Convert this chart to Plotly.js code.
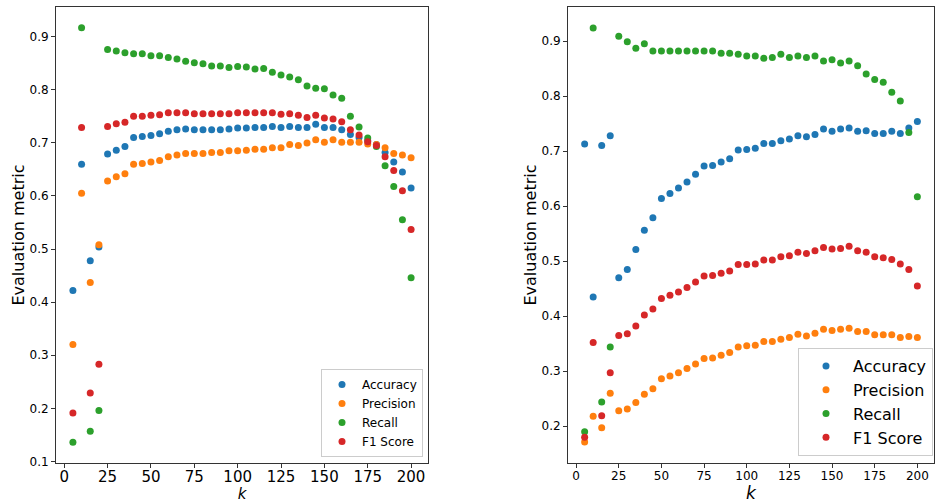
<!DOCTYPE html>
<html>
<head>
<meta charset="utf-8">
<script src="https://cdn.plot.ly/plotly-3.0.1.min.js"></script>
<style>html,body{margin:0;padding:0;background:#fff;}#chart{width:936px;height:503px;}</style>
</head>
<body>
<div id="chart"></div>
<script>
const kVals = [5,10,15,20,25,30,35,40,45,50,55,60,65,70,75,80,85,90,95,100,105,110,115,120,125,130,135,140,145,150,155,160,165,170,175,180,185,190,195,200];

const seriesNames = ["Accuracy","Precision","Recall","F1 Score"];
const seriesColors = ["#1f77b4","#ff7f0e","#2ca02c","#d62728"];

// Left panel
const accLeft = [0.422,0.660,0.478,0.504,0.679,0.686,0.693,0.710,0.712,0.714,0.717,0.722,0.725,0.726,0.725,0.725,0.725,0.725,0.726,0.728,0.728,0.729,0.729,0.731,0.729,0.731,0.729,0.729,0.735,0.729,0.729,0.725,0.716,0.710,0.704,0.697,0.682,0.664,0.645,0.615];
const precLeft = [0.320,0.605,0.437,0.508,0.628,0.636,0.642,0.660,0.661,0.664,0.667,0.674,0.677,0.680,0.680,0.680,0.682,0.682,0.685,0.685,0.686,0.688,0.688,0.691,0.691,0.697,0.695,0.700,0.706,0.701,0.706,0.701,0.701,0.701,0.698,0.697,0.691,0.680,0.677,0.672];
const recLeft = [0.136,0.917,0.157,0.196,0.876,0.873,0.870,0.868,0.868,0.864,0.864,0.861,0.858,0.854,0.851,0.849,0.845,0.845,0.842,0.844,0.843,0.839,0.840,0.833,0.828,0.824,0.819,0.807,0.803,0.802,0.790,0.784,0.750,0.730,0.709,0.693,0.657,0.618,0.555,0.446];
const f1Left = [0.191,0.729,0.229,0.283,0.731,0.736,0.739,0.750,0.750,0.752,0.753,0.757,0.757,0.757,0.755,0.755,0.755,0.755,0.755,0.757,0.757,0.757,0.757,0.757,0.754,0.755,0.752,0.748,0.752,0.747,0.745,0.740,0.725,0.715,0.702,0.695,0.674,0.648,0.610,0.537];

// Right panel
const accRight = [0.713,0.435,0.710,0.728,0.470,0.485,0.521,0.556,0.579,0.614,0.623,0.633,0.644,0.658,0.673,0.674,0.680,0.686,0.702,0.703,0.705,0.714,0.714,0.719,0.722,0.728,0.726,0.730,0.740,0.736,0.740,0.742,0.736,0.737,0.732,0.732,0.736,0.732,0.742,0.754];
const precRight = [0.171,0.218,0.197,0.260,0.228,0.231,0.243,0.258,0.268,0.286,0.291,0.297,0.305,0.313,0.323,0.324,0.329,0.334,0.344,0.346,0.347,0.354,0.354,0.358,0.361,0.367,0.364,0.369,0.376,0.374,0.376,0.378,0.372,0.372,0.366,0.366,0.366,0.361,0.363,0.361];
const recRight = [0.190,0.924,0.244,0.344,0.909,0.899,0.887,0.895,0.882,0.882,0.882,0.882,0.882,0.882,0.882,0.882,0.878,0.878,0.876,0.873,0.873,0.869,0.870,0.876,0.870,0.873,0.870,0.873,0.864,0.866,0.860,0.864,0.855,0.840,0.830,0.825,0.807,0.791,0.734,0.617];
const f1Right = [0.180,0.352,0.219,0.297,0.365,0.368,0.382,0.402,0.413,0.432,0.438,0.444,0.452,0.462,0.473,0.474,0.478,0.482,0.494,0.494,0.495,0.502,0.502,0.508,0.510,0.516,0.514,0.519,0.525,0.522,0.523,0.527,0.519,0.516,0.508,0.506,0.503,0.495,0.485,0.455];

const leftSeries = [accLeft, precLeft, recLeft, f1Left];
const rightSeries = [accRight, precRight, recRight, f1Right];

const FONT = "DejaVu Sans, Liberation Sans, sans-serif";
const traces = [];
leftSeries.forEach((ys, i) => {
  traces.push({
    type: "scatter", mode: "markers", x: kVals, y: ys, name: seriesNames[i],
    xaxis: "x", yaxis: "y", legend: "legend",
    marker: {color: seriesColors[i], size: 7, line: {width: 0}}
  });
});
rightSeries.forEach((ys, i) => {
  traces.push({
    type: "scatter", mode: "markers", x: kVals, y: ys, name: seriesNames[i],
    xaxis: "x2", yaxis: "y2", legend: "legend2",
    marker: {color: seriesColors[i], size: 7, line: {width: 0}}
  });
});

const axBase = {
  showline: true, mirror: true, linecolor: "#333", linewidth: 1,
  showgrid: false, zeroline: false, ticks: "outside", ticklen: 4, tickwidth: 1,
  tickcolor: "#333"
};
const yDom = [1 - 463/503, 1 - 7/503];

const layout = {
  width: 936, height: 503,
  margin: {l: 0, r: 0, t: 0, b: 0},
  paper_bgcolor: "#fff", plot_bgcolor: "#fff",
  font: {family: FONT, color: "#000"},
  xaxis: Object.assign({}, axBase, {
    domain: [56/936, 428/936], range: [-4.75, 209.75],
    tickvals: [0,25,50,75,100,125,150,175,200],
    tickfont: {size: 15, family: FONT}, ticklabelstandoff: -4,
    title: {text: "<i>k</i>", font: {size: 15, family: FONT}, standoff: 2}
  }),
  yaxis: Object.assign({}, axBase, {
    domain: yDom, range: [0.097, 0.956],
    tickvals: [0.1,0.2,0.3,0.4,0.5,0.6,0.7,0.8,0.9], tickformat: ".1f",
    tickfont: {size: 12, family: FONT},
    title: {text: "Evaluation metric", font: {size: 16, family: FONT}, standoff: 0}
  }),
  xaxis2: Object.assign({}, axBase, {
    anchor: "y2",
    domain: [568/936, 934/936], range: [-4.75, 209.75],
    tickvals: [0,25,50,75,100,125,150,175,200],
    tickfont: {size: 12, family: FONT}, ticklabelstandoff: -2,
    title: {text: "<i>k</i>", font: {size: 17, family: FONT}, standoff: 2}
  }),
  yaxis2: Object.assign({}, axBase, {
    anchor: "x2",
    domain: yDom, range: [0.133, 0.962],
    tickvals: [0.2,0.3,0.4,0.5,0.6,0.7,0.8,0.9], tickformat: ".1f",
    tickfont: {size: 12, family: FONT},
    title: {text: "Evaluation metric", font: {size: 16, family: FONT}, standoff: 0}
  }),
  legend: {
    x: 423/936, y: 1 - 457/503, xanchor: "right", yanchor: "bottom",
    bgcolor: "#fff", bordercolor: "#ccc", borderwidth: 1,
    font: {size: 12, family: FONT}, tracegroupgap: 0
  },
  legend2: {
    x: 933/936, y: 1 - 456/503, xanchor: "right", yanchor: "bottom",
    bgcolor: "#fff", bordercolor: "#ccc", borderwidth: 1,
    font: {size: 16, family: FONT}, tracegroupgap: 0, itemwidth: 44
  },
  showlegend: true
};

Plotly.newPlot("chart", traces, layout, {staticPlot: true, displayModeBar: false});
</script>
</body>
</html>
